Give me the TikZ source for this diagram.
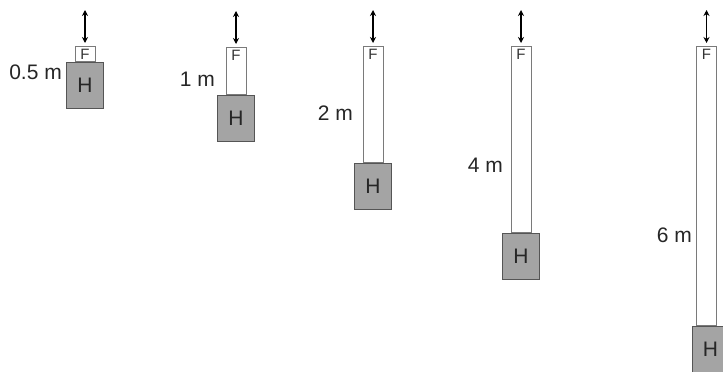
\documentclass[tikz,border=0pt]{standalone}
\usepackage{fontspec}
\setmainfont{Liberation Sans}
\usetikzlibrary{positioning,arrows.meta}
\definecolor{boxline}{HTML}{7A7A7A}
\definecolor{hline}{HTML}{555555}
\definecolor{hfill}{HTML}{A4A4A4}
\begin{document}
\begin{tikzpicture}[
    x=1pt, y=-1pt,
    fbox/.style={
        rectangle,
        draw=boxline,
        fill=white,
        line width=1pt,
        minimum width=20pt,
        inner sep=0pt,
        anchor=north,
        label={[font=\fontsize{15}{17}\selectfont, text=black!80, anchor=north, inner sep=3pt]north:F}
    },
    hbox/.style={
        rectangle,
        draw=hline,
        fill=hfill,
        line width=1pt,
        minimum width=37pt,
        minimum height=46pt,
        inner sep=0pt,
        font=\fontsize{21}{25}\selectfont,
        text=black!85
    },
    lenlab/.style={
        anchor=east,
        inner sep=0pt,
        font=\fontsize{21}{25}\selectfont,
        text=black!85
    },
    shake/.style={
        {Stealth[length=6pt,width=6pt]}-{Stealth[length=6pt,width=6pt]},
        line width=1.8pt,
        shorten >=3pt
    }
]
\useasboundingbox (0,0) rectangle (723,372);

% 0.5 m
\node[fbox, minimum height=15pt] (F1) at (85,46) {};
\node[hbox, below=0pt of F1] (H1) {H};
\node[lenlab] (L1) at (62,72) {0.5 m};

% 1 m
\node[fbox, minimum height=47pt] (F2) at (236,47) {};
\node[hbox, below=0pt of F2] (H2) {H};
\node[lenlab] (L2) at (215,79) {1 m};

% 2 m
\node[fbox, minimum height=116pt] (F3) at (373,46) {};
\node[hbox, below=0pt of F3] (H3) {H};
\node[lenlab] (L3) at (353,113) {2 m};

% 4 m
\node[fbox, minimum height=186pt] (F4) at (521,46) {};
\node[hbox, below=0pt of F4] (H4) {H};
\node[lenlab] (L4) at (503,165) {4 m};

% 6 m
\node[fbox, minimum height=279pt] (F5) at (706.5,46) {};
\node[hbox, below=0pt of F5, xshift=4pt] (H5) {H};
\node[lenlab] (L5) at (692,235) {6 m};

% Shaking
\foreach \i in {1,...,5} {
    \coordinate[above=36pt of F\i.north] (T\i);
    \draw[shake] (T\i) -- (F\i);
}

\end{tikzpicture}
\end{document}
